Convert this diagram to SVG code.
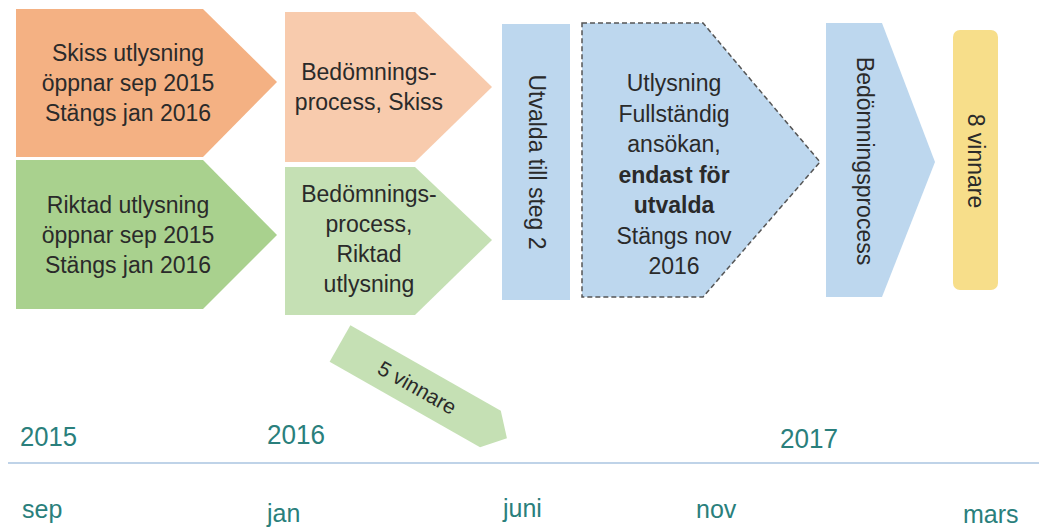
<svg xmlns="http://www.w3.org/2000/svg" width="1039" height="528" viewBox="0 0 1039 528">
<style>
.t{font-family:"Liberation Sans",Arial,sans-serif;font-size:23px;fill:#2a2a2a;text-anchor:middle}
.b{font-weight:bold}
.yr{font-family:"Liberation Sans",Arial,sans-serif;font-size:27px;fill:#2a7f7c}
.mo{font-family:"Liberation Sans",Arial,sans-serif;font-size:25px;fill:#2a7f7c}
</style>
<rect width="1039" height="528" fill="#ffffff"/>
<g id="skiss-utlysning">
<polygon points="16,9 203,9 277,82 203,157 16,157" fill="#f4b183"/>
<text class="t" fill="#3a3a3a"><tspan x="128" y="61">Skiss utlysning</tspan><tspan x="128" y="91">öppnar sep 2015</tspan><tspan x="128" y="121">Stängs jan 2016</tspan></text>
</g>
<g id="riktad-utlysning">
<polygon points="16,160 203,160 277,235 203,309 16,309" fill="#a9d18e"/>
<text class="t"><tspan x="128" y="213">Riktad utlysning</tspan><tspan x="128" y="243">öppnar sep 2015</tspan><tspan x="128" y="273">Stängs jan 2016</tspan></text>
</g>
<g id="bedomning-skiss">
<polygon points="285,12 415,12 492,87 415,162 285,162" fill="#f8cbad"/>
<text class="t"><tspan x="369" y="80">Bedömnings-</tspan><tspan x="369" y="110">process, Skiss</tspan></text>
</g>
<g id="bedomning-riktad">
<polygon points="285,167 415,167 492,240 415,315 285,315" fill="#c5e0b4"/>
<text class="t"><tspan x="369" y="202">Bedömnings-</tspan><tspan x="369" y="232">process,</tspan><tspan x="369" y="262">Riktad</tspan><tspan x="369" y="292">utlysning</tspan></text>
</g>
<g id="utvalda">
<rect x="502" y="24" width="68" height="276" fill="#bdd7ee"/>
<text class="t" transform="translate(537,162) rotate(90)" x="0" y="0" dominant-baseline="central">Utvalda till steg 2</text>
</g>
<g id="fullstandig">
<polygon points="582,23 703,23 820,162 703,297 582,297" fill="#bdd7ee" stroke="#555" stroke-width="1.5" stroke-dasharray="5,3"/>
<text class="t"><tspan x="674" y="91">Utlysning</tspan><tspan x="674" y="121.5">Fullständig</tspan><tspan x="674" y="152">ansökan,</tspan><tspan x="674" y="182.5" class="b">endast för</tspan><tspan x="674" y="213" class="b">utvalda</tspan><tspan x="674" y="243.5">Stängs nov</tspan><tspan x="674" y="274">2016</tspan></text>
</g>
<g id="bedomningsprocess">
<polygon points="826,23 882,23 935,162 882,297 826,297" fill="#bdd7ee"/>
<text class="t" transform="translate(865,161) rotate(90)" x="0" y="0" dominant-baseline="central">Bedömningsprocess</text>
</g>
<g id="atta-vinnare">
<rect x="953" y="30" width="45" height="260" rx="7" fill="#f7de8a"/>
<text class="t" transform="translate(976,161) rotate(90)" x="0" y="0" dominant-baseline="central">8 vinnare</text>
</g>
<g id="fem-vinnare" transform="translate(340,343.5) rotate(29.6)">
<polygon points="0,-21 173,-21 192,0 173,21 0,21" fill="#c5e0b4"/>
<text class="t" x="89" y="0" dominant-baseline="central" style="font-size:21px">5 vinnare</text>
</g>
<g id="timeline">
<line x1="8" y1="463" x2="1039" y2="463" stroke="#aac4e0" stroke-width="1.5"/>
<text class="yr" x="20" y="446" textLength="57" lengthAdjust="spacingAndGlyphs">2015</text>
<text class="yr" x="267" y="444" textLength="58" lengthAdjust="spacingAndGlyphs">2016</text>
<text class="yr" x="780" y="448" textLength="58" lengthAdjust="spacingAndGlyphs">2017</text>
<text class="mo" x="22" y="518">sep</text>
<text class="mo" x="267" y="522">jan</text>
<text class="mo" x="503" y="517">juni</text>
<text class="mo" x="696" y="518">nov</text>
<text class="mo" x="963" y="523">mars</text>
</g>
</svg>
